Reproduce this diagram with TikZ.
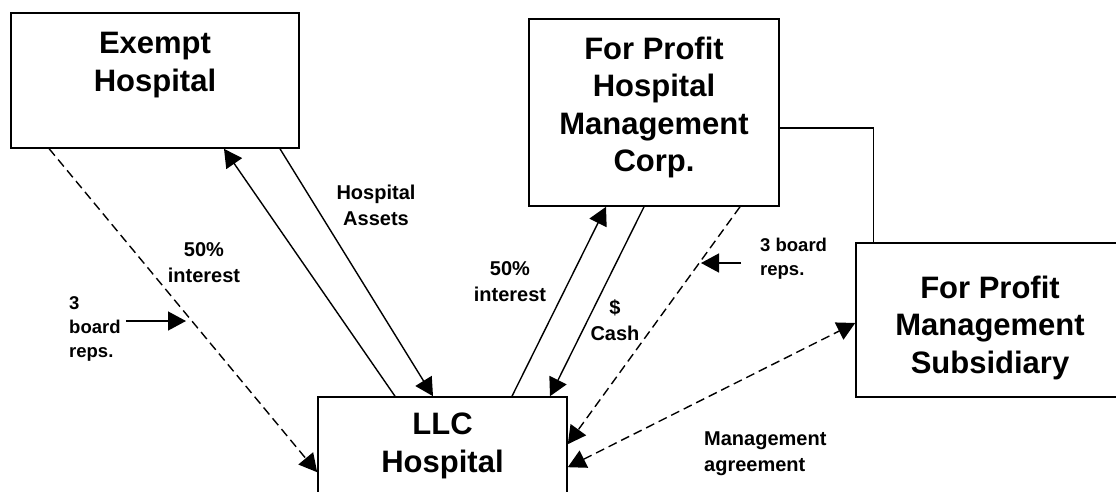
\documentclass[tikz,border=0pt]{standalone}
\usepackage{fontspec}
\setmainfont{Liberation Sans}
\usetikzlibrary{positioning, arrows.meta}

\begin{document}
\begin{tikzpicture}[x=1pt, y=-1pt, node distance=1cm,
		big/.style={inner sep=2pt, align=center, font=\bfseries\fontsize{31}{37.5}\selectfont},
		box/.style={draw, line width=1.6pt},
		lbl/.style={inner sep=1pt, align=center, font=\bfseries\fontsize{20}{26}\selectfont},
		reps/.style={inner sep=1pt, align=left, anchor=west, font=\bfseries\fontsize{18.5}{24}\selectfont},
		tip/.style={Triangle[length=18pt,width=19pt]},
		arr/.style={-{Triangle[length=18pt,width=19pt]}, line width=1.4pt},
		dsh/.style={dash pattern=on 9pt off 5pt}]
			\useasboundingbox (0,0) rectangle (1116,491);
			\clip (0,0) rectangle (1116,491);
			\node[box, minimum width=288, minimum height=135] (exempt) at (155,80.5) {};
			\node[big, below=18pt of exempt.north] (exempttext) {Exempt\\Hospital};
			\node[box, minimum width=250, minimum height=187] (corp) at (654,112.5) {};
			\node[big] (corptext) at ([yshift=5]corp.center) {For Profit\\Hospital\\Management\\Corp.};
			\node[box, big, minimum width=249, minimum height=98] (llc) at (442.5,446) {LLC\\Hospital};
			\node[box, minimum width=268, minimum height=154] (sub) at (990,320) {};
			\node[big] (subtext) at ([yshift=-7.5]sub.center) {For Profit\\Management\\Subsidiary};
			\node[lbl] (assets) at (376,205) {Hospital\\Assets};
			\node[lbl] (intl) at (204,262.5) {50\%\\interest};
			\node[lbl] (intr) at (510,281.5) {50\%\\interest};
			\node[lbl] (cash) at (615,320) {\$\\Cash};
			\node[reps] (repsl) at (68,329) {3\\board\\reps.};
			\node[reps] (repsr) at (759,259) {3 board\\reps.};
			\node[lbl, align=left, anchor=west] (agree) at (703,454) {Management\\agreement};
			\coordinate (tipl) at (186,321);
			\coordinate (tipr) at (701,263);
			\draw[arr] ([xshift=-47.5]llc.north) -- ([xshift=69]exempt.south);
			\draw[arr] ([xshift=125]exempt.south) -- ([xshift=-9.5]llc.north);
			\draw[arr, dsh] ([xshift=39]exempt.south west) -- ([yshift=-76]llc.north west);
			\draw[arr] ([xshift=69.5]llc.north) -- ([xshift=-48]corp.south);
			\draw[arr] ([xshift=-10]corp.south) -- ([xshift=107.5]llc.north);
			\draw[arr, dsh] ([xshift=86]corp.south) -- ([yshift=-48]llc.north east);
			\draw[arr, dsh, {Triangle[length=18pt,width=19pt]}-{Triangle[length=18pt,width=19pt]}] ([yshift=-71]llc.north east) -- ([yshift=-3]sub.west);
			\draw[line width=1.4pt] ([yshift=-15.5]corp.east) -| ([xshift=18]sub.north west);
			\draw[arr] ([xshift=4, yshift=8]repsl.east) -- (tipl);
			\draw[arr] ([xshift=-18, yshift=-4]repsr.west) -- (tipr);
		\end{tikzpicture}
\end{document}
